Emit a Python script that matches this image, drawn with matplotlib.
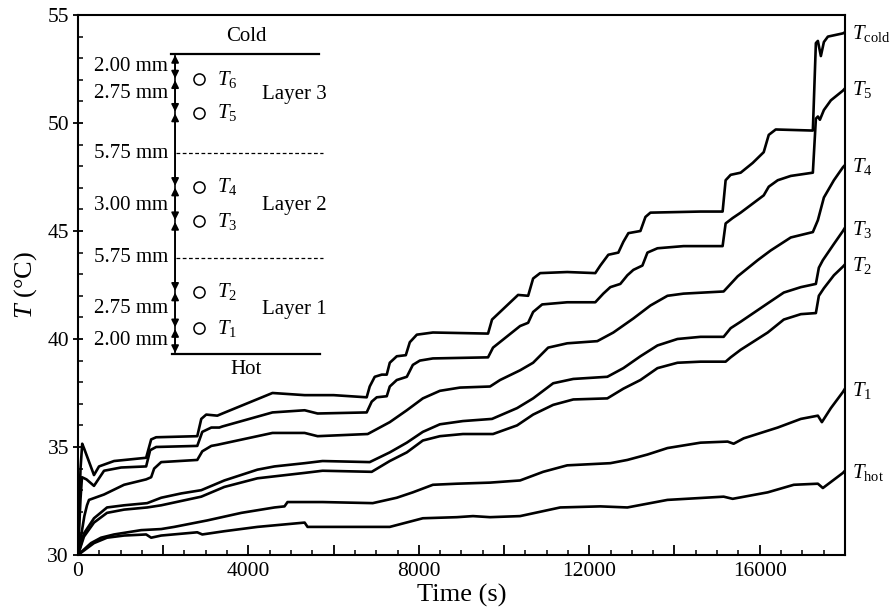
import matplotlib

matplotlib.use("Agg")
import matplotlib.pyplot as plt
from matplotlib.ticker import MultipleLocator, FuncFormatter


# temperature traces (time in s, temperature in degC)
t_cold = [0, 60, 100, 150, 376, 494, 847, 1600, 1718, 1835, 2800, 2894, 3010, 3270, 3390,
          4565, 5320, 6000, 6776, 6847, 6965, 7130, 7247, 7318, 7482, 7694, 7788, 7953,
          8330, 9624, 9718, 10329, 10565, 10682, 10847, 11482, 12141, 12259, 12447, 12682,
          12800, 12918, 13200, 13318, 13435, 14612, 15129, 15200, 15318, 15553, 15835,
          16094, 16212, 16376, 17247, 17318, 17365, 17435, 17506, 17600, 17953, 18000]
v_cold = [30.1, 34.0, 35.15, 34.9, 33.7, 34.1, 34.35, 34.5, 35.35, 35.45, 35.5, 36.3, 36.5,
          36.45, 36.55, 37.5, 37.4, 37.4, 37.3, 37.8, 38.25, 38.35, 38.35, 38.9, 39.2, 39.25,
          39.85, 40.2, 40.3, 40.25, 40.9, 42.04, 42.0, 42.8, 43.05, 43.1, 43.05, 43.4, 43.9,
          44.0, 44.5, 44.9, 45.0, 45.65, 45.85, 45.9, 45.9, 47.35, 47.6, 47.7, 48.15, 48.65,
          49.45, 49.7, 49.65, 53.7, 53.8, 53.1, 53.75, 54.0, 54.15, 54.2]

t_5 = [0, 60, 94, 200, 376, 612, 1012, 1600, 1694, 1835, 2800, 2918, 3130, 3318, 3390, 4565,
       5320, 5624, 6776, 6894, 7012, 7247, 7318, 7482, 7718, 7859, 8024, 8330, 9624, 9741,
       10376, 10565, 10682, 10894, 11482, 12141, 12329, 12494, 12729, 12894, 13035, 13247,
       13365, 13600, 14212, 15129, 15200, 15365, 15553, 16094, 16212, 16423, 16729, 17247,
       17318, 17365, 17412, 17506, 17670, 17953, 18000]
v_5 = [30.0, 32.6, 33.6, 33.5, 33.2, 33.9, 34.05, 34.1, 34.85, 35.0, 35.05, 35.7, 35.9, 35.9,
       35.95, 36.6, 36.7, 36.55, 36.6, 37.1, 37.3, 37.35, 37.8, 38.1, 38.25, 38.8, 39.0, 39.1,
       39.15, 39.6, 40.6, 40.75, 41.25, 41.6, 41.7, 41.7, 42.1, 42.4, 42.55, 42.95, 43.2, 43.4,
       44.0, 44.2, 44.3, 44.3, 45.35, 45.6, 45.85, 46.65, 47.05, 47.35, 47.55, 47.7, 50.2,
       50.3, 50.15, 50.6, 51.05, 51.5, 51.6]

t_4 = [0, 150, 212, 259, 612, 1082, 1600, 1718, 1788, 1953, 2800, 2918, 3130, 3270, 4565,
       5320, 5624, 6800, 7318, 7718, 8094, 8494, 8965, 9671, 9906, 10376, 10682, 11035,
       11482, 12188, 12565, 13035, 13435, 13835, 14212, 15153, 15482, 15953, 16259, 16729,
       17247, 17365, 17506, 17741, 17953, 18000]
v_4 = [30.0, 31.8, 32.3, 32.55, 32.8, 33.25, 33.5, 33.6, 34.0, 34.3, 34.4, 34.8, 35.05, 35.1,
       35.65, 35.65, 35.5, 35.6, 36.15, 36.7, 37.25, 37.6, 37.75, 37.8, 38.1, 38.55, 38.9,
       39.6, 39.8, 39.9, 40.3, 40.95, 41.55, 42.0, 42.1, 42.2, 42.9, 43.65, 44.1, 44.7, 44.95,
       45.5, 46.55, 47.35, 47.95, 48.05]

t_3 = [0, 141, 376, 682, 1082, 1624, 1953, 2424, 2894, 3435, 4212, 4612, 5320, 5741, 6847,
       7318, 7718, 8094, 8494, 9035, 9718, 10306, 10682, 11153, 11624, 12424, 12800, 13200,
       13600, 14070, 14612, 15153, 15318, 15553, 16188, 16565, 16965, 17318, 17388, 17482,
       17741, 17953, 18000]
v_3 = [30.0, 31.0, 31.7, 32.2, 32.3, 32.4, 32.65, 32.85, 33.0, 33.45, 33.95, 34.1, 34.25,
       34.35, 34.3, 34.75, 35.2, 35.7, 36.05, 36.2, 36.3, 36.8, 37.25, 37.95, 38.15, 38.25,
       38.65, 39.2, 39.7, 40.0, 40.1, 40.1, 40.5, 40.8, 41.65, 42.15, 42.4, 42.55, 43.3,
       43.65, 44.4, 45.0, 45.15]

t_2 = [0, 141, 376, 682, 1082, 1624, 1953, 2894, 3435, 4212, 5320, 5741, 6894, 7318, 7718,
       8094, 8494, 9035, 9741, 10306, 10682, 11153, 11624, 12424, 12800, 13200, 13600, 14070,
       14612, 15200, 15318, 15553, 16188, 16565, 16965, 17318, 17388, 17506, 17741, 17953,
       18000]
v_2 = [30.0, 30.85, 31.5, 31.95, 32.1, 32.2, 32.3, 32.7, 33.15, 33.55, 33.8, 33.9, 33.85,
       34.35, 34.75, 35.3, 35.5, 35.6, 35.6, 36.0, 36.5, 36.95, 37.2, 37.25, 37.7, 38.1, 38.65,
       38.9, 38.95, 38.95, 39.15, 39.5, 40.3, 40.9, 41.15, 41.2, 42.0, 42.35, 42.95, 43.35,
       43.45]

t_1 = [0, 306, 541, 847, 1482, 1953, 2259, 3035, 3835, 4612, 4847, 4918, 5320, 5741, 6918,
       7482, 7859, 8330, 8894, 9671, 10376, 10918, 11482, 12494, 12894, 13365, 13835, 14612,
       15247, 15388, 15624, 16423, 16965, 17365, 17459, 17670, 17953, 18000]
v_1 = [30.0, 30.55, 30.8, 30.95, 31.15, 31.2, 31.3, 31.6, 31.95, 32.2, 32.25, 32.45, 32.45,
       32.45, 32.4, 32.65, 32.9, 33.25, 33.3, 33.35, 33.45, 33.85, 34.15, 34.25, 34.4, 34.65,
       34.95, 35.2, 35.25, 35.15, 35.4, 35.9, 36.3, 36.45, 36.15, 36.8, 37.55, 37.7]

t_hot = [0, 376, 682, 1082, 1600, 1718, 1953, 2800, 2918, 3435, 4212, 5320, 5388, 6847, 7318,
         8094, 8894, 9271, 9671, 10376, 11318, 12259, 12894, 13835, 15153, 15365, 16188,
         16800, 17365, 17482, 17953, 18000]
v_hot = [30.0, 30.55, 30.8, 30.9, 30.95, 30.8, 30.9, 31.05, 30.95, 31.1, 31.3, 31.5, 31.3,
         31.3, 31.3, 31.7, 31.75, 31.8, 31.75, 31.8, 32.2, 32.25, 32.2, 32.55, 32.7, 32.6,
         32.9, 33.25, 33.3, 33.1, 33.8, 33.9]

series = [(t_cold, v_cold, r"$T_{\mathrm{cold}}$"), (t_5, v_5, r"$T_5$"), (t_4, v_4, r"$T_4$"),
          (t_3, v_3, r"$T_3$"), (t_2, v_2, r"$T_2$"), (t_1, v_1, r"$T_1$"),
          (t_hot, v_hot, r"$T_{\mathrm{hot}}$")]

# sketch of the sample (drawn in data coordinates)
sensor_labels = [r"$T_6$", r"$T_5$", r"$T_4$", r"$T_3$", r"$T_2$", r"$T_1$"]
sensor_y = [52.02, 50.48, 47.05, 45.46, 42.19, 40.5]
cold_y = 53.19
hot_y = 39.31
layer_edges_y = [48.6, 43.75]
gap_labels = ["2.00 mm", "2.75 mm", "5.75 mm", "3.00 mm", "5.75 mm", "2.75 mm", "2.00 mm"]
gap_label_y = [52.6, 51.35, 48.6, 46.2, 43.75, 41.4, 39.95]
layer_labels = ["Layer 3", "Layer 2", "Layer 1"]
layer_label_y = [51.3, 46.2, 41.35]

plt.rcParams["font.family"] = ["Liberation Serif", "DejaVu Serif"]
plt.rcParams["mathtext.fontset"] = "custom"
plt.rcParams["mathtext.rm"] = "Liberation Serif"
plt.rcParams["mathtext.it"] = "Liberation Serif:italic"

fig = plt.figure(figsize=(8.91, 6.15), dpi=100)
ax = fig.add_axes([0.0875, 0.0976, 0.8608, 0.878])

for t, v, lab in series:
    ax.plot(t, v, color="black", lw=1.9, solid_joinstyle="round")
    ax.annotate(lab, xy=(1, v[-1]), xycoords=("axes fraction", "data"),
                xytext=(5, -5), textcoords="offset points", va="baseline", ha="left",
                fontsize=15, annotation_clip=False)

# sample sketch
x_bar = 2280
x_circ = 2850
ax.plot([2190, 5650], [cold_y, cold_y], color="black", lw=1.6)
ax.plot([2210, 5670], [hot_y, hot_y], color="black", lw=1.6)
for y in layer_edges_y:
    ax.plot([2300, 5740], [y, y], color="black", lw=0.9, ls=(0, (3, 2)))
ax.plot([x_bar, x_bar], [hot_y, cold_y], color="black", lw=1.2)
stops = [cold_y] + sensor_y + [hot_y]
for top, bot in zip(stops[:-1], stops[1:]):
    ax.annotate("", xy=(x_bar, top - 0.04), xytext=(x_bar, bot + 0.04),
                arrowprops=dict(arrowstyle="<|-|>", color="black", lw=1.2,
                                mutation_scale=11, shrinkA=0, shrinkB=0))
ax.plot([x_circ] * len(sensor_y), sensor_y, "o", ms=8, mfc="white", mec="black", mew=1.1)
for lab, y in zip(sensor_labels, sensor_y):
    ax.text(x_circ + 420, y, lab, fontsize=15, va="center", ha="left")
for lab, y in zip(gap_labels, gap_label_y):
    ax.text(2110, y, lab, fontsize=15, va="center", ha="right")
for lab, y in zip(layer_labels, layer_label_y):
    ax.text(4330, y, lab, fontsize=15, va="center", ha="left")
ax.text(3950, 54.0, "Cold", fontsize=15, va="center", ha="center")
ax.text(3950, 38.6, "Hot", fontsize=15, va="center", ha="center")

ax.set_xlim(0, 18000)
ax.set_ylim(30, 55)
ax.xaxis.set_major_locator(MultipleLocator(2000))
ax.xaxis.set_minor_locator(MultipleLocator(500))
ax.xaxis.set_major_formatter(FuncFormatter(lambda x, p: f"{x:.0f}" if x % 4000 == 0 and x < 18000 else ""))
ax.yaxis.set_major_locator(MultipleLocator(5))
ax.yaxis.set_minor_locator(MultipleLocator(1))
ax.tick_params(axis="x", which="major", direction="in", length=7, width=1.3, labelsize=15.5, pad=5)
ax.tick_params(axis="x", which="minor", direction="in", length=3.5, width=1.1)
ax.tick_params(axis="y", which="major", direction="inout", length=7, width=1.3, labelsize=15.5, pad=3)
ax.tick_params(axis="y", which="minor", direction="in", length=3.5, width=1.1)
for s in ax.spines.values():
    s.set_linewidth(1.5)

ax.set_xlabel("Time (s)", fontsize=19, labelpad=2)
ax.set_ylabel(r"$T$ (°C)", fontsize=19, labelpad=6)

fig.savefig("out.png", dpi=100)
